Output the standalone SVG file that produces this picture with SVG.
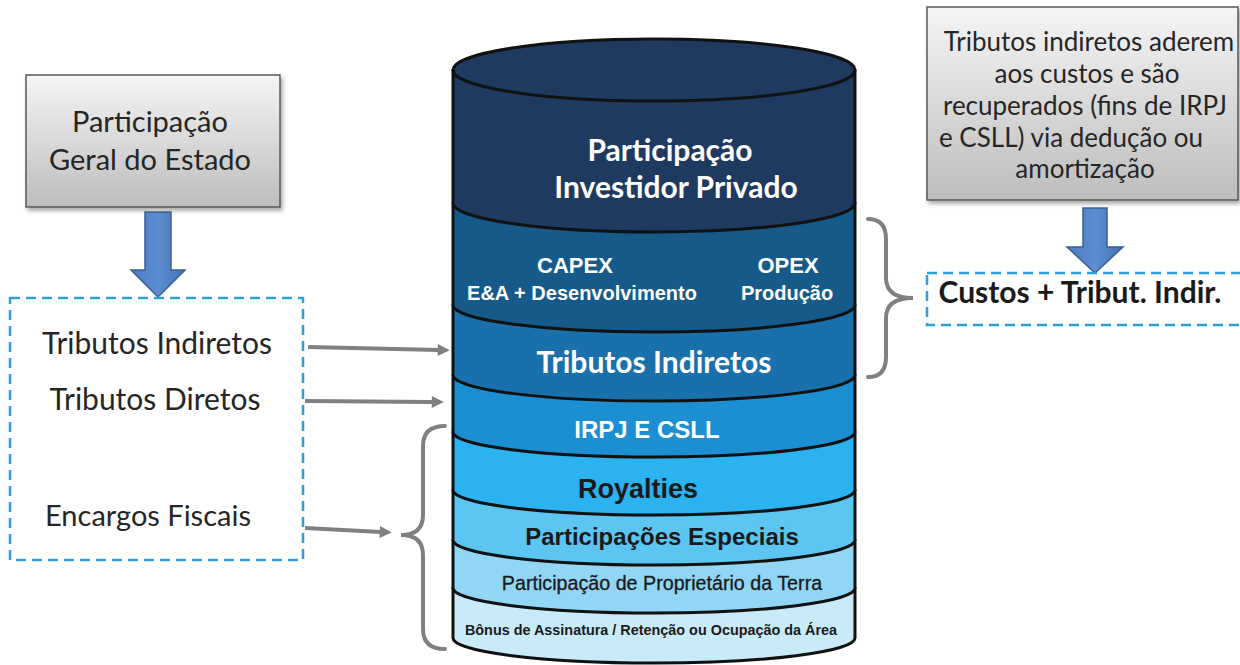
<svg xmlns="http://www.w3.org/2000/svg" width="1240" height="665" viewBox="0 0 1240 665">
<style>
.cyl{stroke:#111;stroke-width:3;stroke-linejoin:round}
.h{font-family:Lato,"Open Sans",sans-serif}
.a{font-family:"Liberation Sans",Arial,sans-serif;font-weight:bold}
.w{fill:#fff}
.k{fill:#1a1a1a}
.g{fill:#262626}
.dash{fill:none;stroke:#2e9fd8;stroke-width:2.5;stroke-dasharray:10 6}
.gbox{fill:url(#gg);stroke:#595959;stroke-width:1.5}
.barrow{fill:url(#bg);stroke:#3a5f8f;stroke-width:1.5}
.conn{fill:none;stroke:#808080;stroke-width:4}
.brace{fill:none;stroke:#808080;stroke-width:4;stroke-linecap:round}
</style>
<defs>
<linearGradient id="gg" x1="0" y1="0" x2="0" y2="1"><stop offset="0" stop-color="#f5f5f5"/><stop offset="1" stop-color="#bdbdbd"/></linearGradient>
<linearGradient id="bg" x1="0" y1="0" x2="1" y2="0"><stop offset="0" stop-color="#4a7cc0"/><stop offset="0.5" stop-color="#5b8dd0"/><stop offset="1" stop-color="#4473b6"/></linearGradient>
<filter id="sh" x="-10%" y="-10%" width="130%" height="130%"><feDropShadow dx="2" dy="3" stdDeviation="2" flood-color="#000" flood-opacity="0.35"/></filter>
<marker id="ah" viewBox="0 0 10 10" refX="1" refY="5" markerWidth="3.5" markerHeight="3" orient="auto" markerUnits="strokeWidth"><path d="M0,0 L10,5 L0,10 z" fill="#808080"/></marker>
</defs>
<rect width="1240" height="665" fill="#fff"/>

<g id="cylinder">
<path class="cyl" fill="#c9eaf9" d="M453,588 L453,638 A201,25 0 0 0 855,638 L855,588 Z"/>
<path class="cyl" fill="#92d6f5" d="M453,540 L453,588 A201,25 0 0 0 855,588 L855,540 Z"/>
<path class="cyl" fill="#5cc6f2" d="M453,490 L453,540 A201,25 0 0 0 855,540 L855,490 Z"/>
<path class="cyl" fill="#2bb2f0" d="M453,432 L453,490 A201,25 0 0 0 855,490 L855,432 Z"/>
<path class="cyl" fill="#1b8fd2" d="M453,375 L453,432 A201,25 0 0 0 855,432 L855,375 Z"/>
<path class="cyl" fill="#1a70aa" d="M453,305 L453,375 A201,26 0 0 0 855,375 L855,305 Z"/>
<path class="cyl" fill="#155a88" d="M453,203 L453,305 A201,27 0 0 0 855,305 L855,203 Z"/>
<path class="cyl" fill="#1f3a60" d="M453,70 L453,203 A201,29 0 0 0 855,203 L855,70 Z"/>
<ellipse class="cyl" fill="#1f3a60" cx="654" cy="70" rx="201" ry="31"/>
<text class="h w" font-weight="bold" font-size="30" text-anchor="middle" x="670" y="161">Participação</text>
<text class="h w" font-weight="bold" font-size="30" text-anchor="middle" x="676" y="198">Investidor Privado</text>
<text class="a w" font-size="22" text-anchor="middle" x="575" y="273">CAPEX</text>
<text class="a w" font-size="20" text-anchor="middle" x="582" y="300">E&amp;A + Desenvolvimento</text>
<text class="a w" font-size="22" text-anchor="middle" x="788" y="273">OPEX</text>
<text class="a w" font-size="20" text-anchor="middle" x="787" y="300">Produção</text>
<text class="h w" font-weight="bold" font-size="30" text-anchor="middle" x="654" y="373">Tributos Indiretos</text>
<text class="a w" font-size="24" text-anchor="middle" x="647" y="438">IRPJ E CSLL</text>
<text class="a k" font-size="27" text-anchor="middle" x="638" y="498">Royalties</text>
<text class="a k" font-size="24" text-anchor="middle" x="662" y="545">Participações Especiais</text>
<text class="k" font-family="Liberation Sans,Arial,sans-serif" font-size="19.7" text-anchor="middle" x="662" y="590" stroke="#1a1a1a" stroke-width="0.3">Participação de Proprietário da Terra</text>
<text class="a k" font-size="14.4" text-anchor="middle" x="651" y="635">Bônus de Assinatura / Retenção ou Ocupação da Área</text>
</g>

<g id="estado">
<rect class="gbox" filter="url(#sh)" x="26" y="75" width="254" height="132"/>
<text class="h g" font-size="29" text-anchor="middle" x="150" y="132">Participação</text>
<text class="h g" font-size="29" text-anchor="middle" x="150" y="170">Geral do Estado</text>
</g>

<g id="arrow-estado">
<polygon class="barrow" points="145,212 171,212 171,270 185,270 158,297 131,270 145,270"/>
</g>

<g id="encargos">
<rect class="dash" x="10" y="298" width="293" height="262"/>
<text class="h g" font-size="30" text-anchor="middle" x="157" y="354">Tributos Indiretos</text>
<text class="h g" font-size="30" text-anchor="middle" x="155" y="410">Tributos Diretos</text>
<text class="h g" font-size="29" text-anchor="middle" x="148" y="526">Encargos Fiscais</text>
</g>

<g id="nota">
<rect class="gbox" filter="url(#sh)" x="927" y="7" width="311" height="193"/>
<text class="h g" font-size="26" text-anchor="middle" x="1089" y="51">Tributos indiretos aderem</text>
<text class="h g" font-size="26" text-anchor="middle" x="1087" y="83">aos custos e são</text>
<text class="h g" font-size="26" text-anchor="middle" x="1085" y="115">recuperados (fins de IRPJ</text>
<text class="h g" font-size="26" text-anchor="middle" x="1071" y="147">e CSLL) via dedução ou</text>
<text class="h g" font-size="26" text-anchor="middle" x="1085" y="178">amortização</text>
</g>

<g id="arrow-nota">
<polygon class="barrow" points="1083,208 1107,208 1107,247 1123,247 1095,273 1067,247 1083,247"/>
</g>

<g id="custos">
<rect class="dash" x="927" y="273" width="330" height="52"/>
<text class="h k" font-weight="bold" font-size="30" text-anchor="middle" x="1080" y="303">Custos + Tribut. Indir.</text>
</g>

<g id="connectors">
<line class="conn" marker-end="url(#ah)" x1="308" y1="347" x2="439" y2="350"/>
<line class="conn" marker-end="url(#ah)" x1="305" y1="401" x2="433" y2="402"/>
<line class="conn" marker-end="url(#ah)" x1="305" y1="528" x2="381" y2="532"/>
<path class="brace" d="M445,426 Q423,426 423,446 L423,515 Q423,535 401,535 Q423,535 423,555 L423,629 Q423,649 445,649"/>
<path class="brace" d="M868,219 Q886,219 886,239 L886,278 Q886,298 913,298 Q886,298 886,318 L886,357 Q886,377 868,377"/>
</g>
</svg>
